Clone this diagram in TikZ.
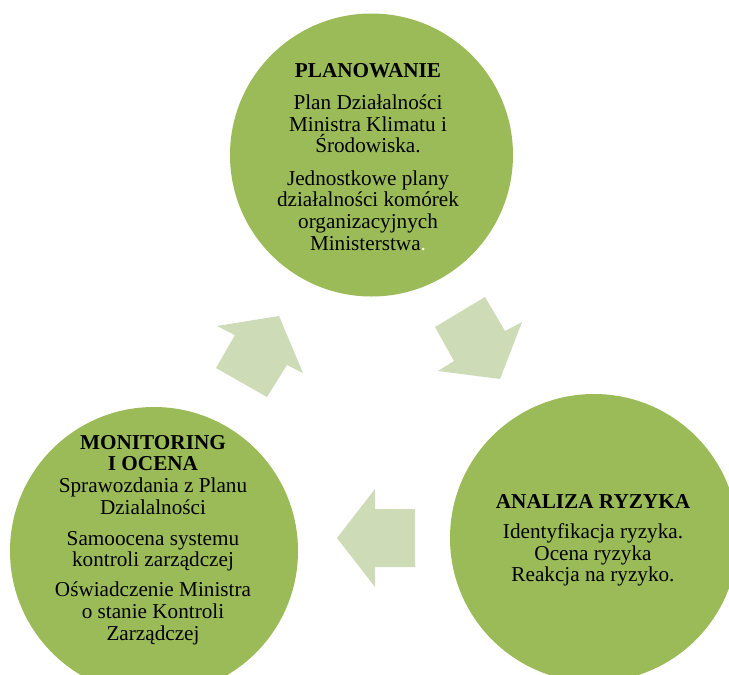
\documentclass[tikz,border=0pt]{standalone}
\usepackage{fontspec}
\setmainfont{Liberation Serif}
\definecolor{circgreen}{HTML}{9BBB59}
\definecolor{arrowgreen}{HTML}{CDDBB7}
\begin{document}
\begin{tikzpicture}[x=1pt,y=-1pt,
  phase/.style={circle, fill=circgreen, inner sep=0pt, minimum size=#1},
  blocktext/.style={align=center, anchor=base, inner sep=0pt, font=\fontsize{21.2}{21.6}\selectfont},
  cyclearrow/.style={fill=arrowgreen}]
\useasboundingbox (0,0) rectangle (729,675);
\clip (0,0) rectangle (729,675);
\fill[white] (0,0) rectangle (729,675);
% phases
\node[phase=283pt] (plan) at (371.5,155) {};
\node[phase=288pt] (mon) at (154,551) {};
\node[phase=288pt] (anal) at (594,538) {};
% arrows
\fill[cyclearrow] (279,316) -- (303,373) -- (287,365) -- (267,397) -- (216,368) -- (235,335) -- (217,326) -- cycle;
\fill[cyclearrow] (485,297) -- (505,331) -- (522,322) -- (500,379) -- (438,371) -- (454,361) -- (435,327) -- cycle;
\fill[cyclearrow] (337,538) -- (375,489) -- (375,509) -- (415,509) -- (415,567) -- (375,567) -- (375,587) -- cycle;
% texts (base anchor = baseline of the last line)
\node[blocktext] (plantext) at (368,250) {\textbf{PLANOWANIE}\\[10.8pt]
  Plan Działalności\\ Ministra Klimatu i\\ Środowiska.\\[10.8pt]
  Jednostkowe plany\\ działalności komórek\\ organizacyjnych\\ Ministerstwa\textcolor{white}{.}};
\node[blocktext] (montext) at (153,640) {\textbf{MONITORING}\\ \textbf{I OCENA}\\
  Sprawozdania z Planu\\ Dzialalności\\[9.5pt]
  Samoocena systemu\\ kontroli zarządczej\\[8.5pt]
  Oświadczenie Ministra\\ o stanie Kontroli\\ Zarządczej};
\node[blocktext] (analtext) at (593,581.7) {\textbf{ANALIZA RYZYKA}\\[8.4pt]
  Identyfikacja ryzyka.\\ Ocena ryzyka\\ Reakcja na ryzyko.};
\end{tikzpicture}
\end{document}
